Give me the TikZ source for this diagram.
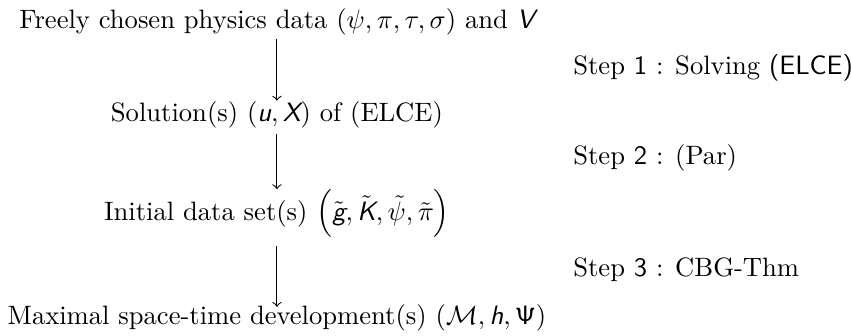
\documentclass[tikz,border=0pt]{standalone}
\usepackage{amsmath, amssymb}
\usepackage{tikz}
\usetikzlibrary{calc, positioning}

% lettres de maths en sans serif incline
\newcommand{\sv}[1]{\textsf{\slshape #1}}

\begin{document}
\begin{tikzpicture}[>=to, line/.style={inner sep=0pt, anchor=base}, stepnote/.style={inner sep=0pt, anchor=base west}]
    % Cadre de l'image
    \useasboundingbox (-3.66,0) rectangle (7.60,-4.44);

    % Les quatre etapes
    \node[line] (data) at (0,-0.37) {Freely chosen physics data $(\psi, \pi, \tau, \sigma)$ and $\sv{V}$};
    \node[line] (sol) at (0,-1.60) {Solution(s) $(\sv{u}, \sv{X})$ of (ELCE)};
    \node[line] (init) at (0,-2.91) {Initial data set(s) $\left(\tilde{\sv{g}}, \tilde{\sv{K}}, \tilde{\psi}, \tilde{\pi}\right)$};
    \node[line] (dev) at (0,-4.29) {Maximal space-time development(s) $(\mathcal{M}, \sv{h}, \mathsf{\Psi})$};

    % Fleches
    \draw[->, shorten <=1.3pt] (data) -- (sol);
    \draw[->, shorten <=2pt] (sol) -- (init);
    \draw[->, shorten <=3pt, shorten >=-1pt] (init) -- (dev);

    % Commentaires a droite
    \node[stepnote] (s1) at (3.91,-0.99) {Step \textsf{1} : Solving \textsf{(ELCE)}};
    \node[stepnote] (s2) at (3.91,-2.18) {Step \textsf{2} : (Par)};
    \node[stepnote] (s3) at (3.91,-3.66) {Step \textsf{3} : CBG-Thm};
\end{tikzpicture}
\end{document}
